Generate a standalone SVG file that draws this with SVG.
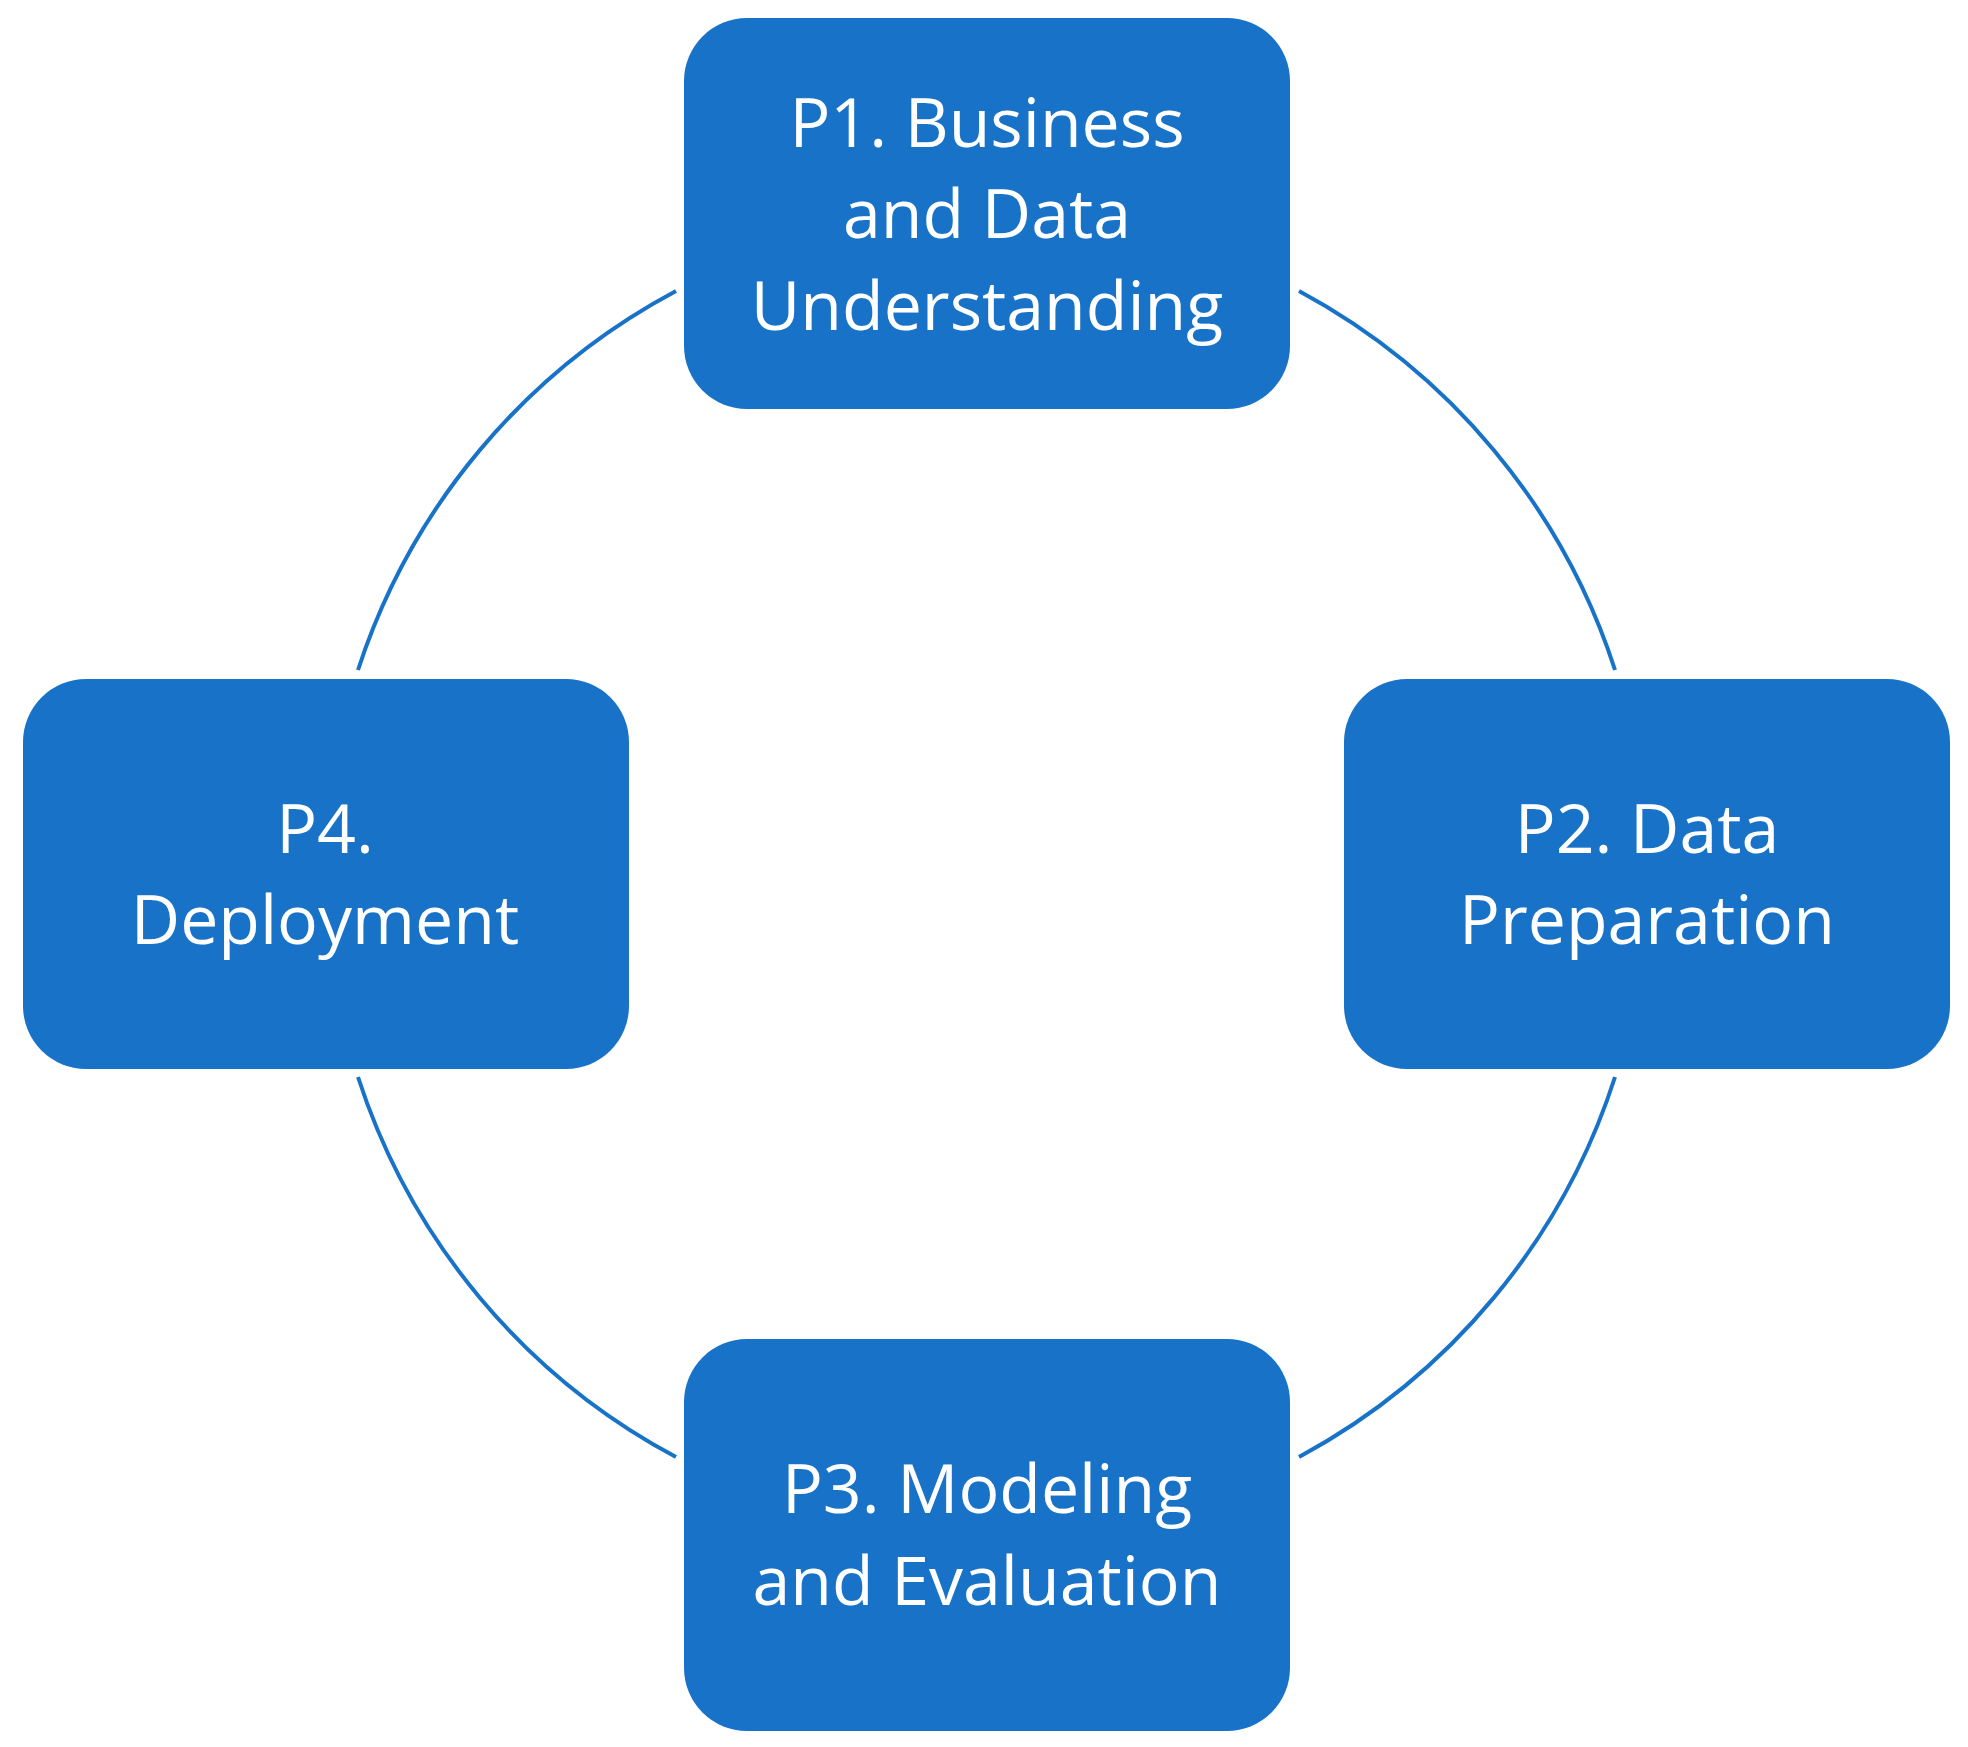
<svg xmlns="http://www.w3.org/2000/svg" width="1968" height="1747" viewBox="0 0 1968 1747">
<style>
.box{fill:#1873C8}
.t{fill:#fff;font-family:"Open Sans","Liberation Sans",sans-serif;font-size:68px;text-anchor:middle}
.arc{fill:none;stroke:#1873C8;stroke-width:4}
</style>
<rect width="1968" height="1747" fill="#fff"/>
<g id="connectors">
<path class="arc" d="M1299,291 A661,661 0 0 1 1615,670"/>
<path class="arc" d="M1615,1077 A661,661 0 0 1 1299,1457"/>
<path class="arc" d="M676,1457 A661,661 0 0 1 358,1077"/>
<path class="arc" d="M358,670 A661,661 0 0 1 676,291"/>
</g>
<g id="p1"><rect class="box" x="684" y="18" width="606" height="391" rx="63"/>
<text class="t" x="987" y="147">P1. Business</text><text class="t" x="987" y="238">and Data</text><text class="t" x="987" y="330">Understanding</text></g>
<g id="p2"><rect class="box" x="1344" y="679" width="606" height="390" rx="63"/>
<text class="t" x="1647" y="853">P2. Data</text><text class="t" x="1647" y="944">Preparation</text></g>
<g id="p3"><rect class="box" x="684" y="1339" width="606" height="392" rx="63"/>
<text class="t" x="987" y="1513">P3. Modeling</text><text class="t" x="987" y="1605">and Evaluation</text></g>
<g id="p4"><rect class="box" x="23" y="679" width="606" height="390" rx="63"/>
<text class="t" x="325" y="853">P4.</text><text class="t" x="325" y="944">Deployment</text></g>
</svg>
